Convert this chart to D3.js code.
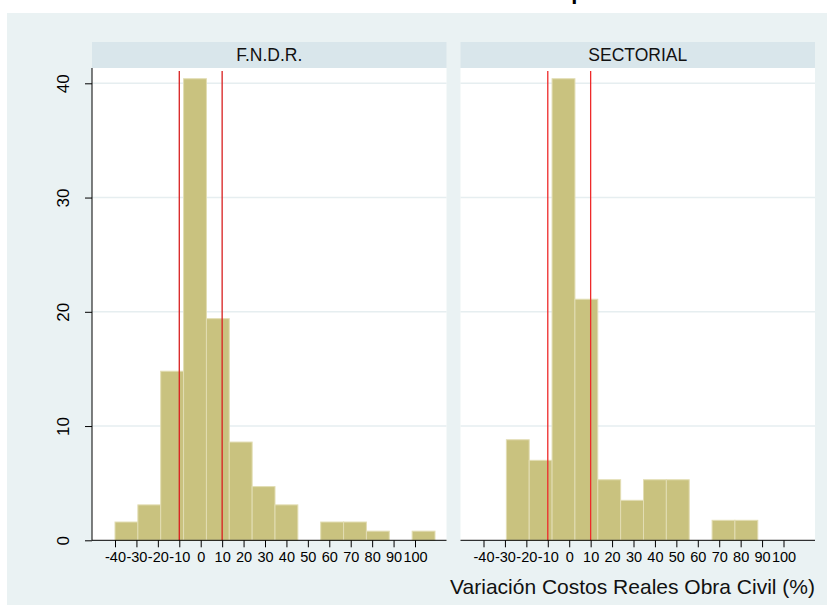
<!DOCTYPE html>
<html><head><meta charset="utf-8">
<script src="https://cdn.jsdelivr.net/npm/d3@7"></script>
<style>body{margin:0;background:#fff;}svg{display:block;font-family:"Liberation Sans",Arial,sans-serif;}</style>
</head><body>
<script>
const panels = ["F.N.D.R.", "SECTORIAL"];
const binEdges = [-40, -29.33, -18.67, -8, 2.67, 13.33, 24, 34.67, 45.33, 56, 66.67, 77.33, 88, 98.67, 109.33];
const fndrPct = [1.6, 3.1, 14.8, 40.4, 19.4, 8.6, 4.7, 3.1, 0, 1.6, 1.6, 0.8, 0, 0.8];
const sectorialPct = [0, 8.8, 7.0, 40.4, 21.1, 5.3, 3.5, 5.3, 5.3, 0, 1.75, 1.75, 0, 0];
const xTicks = [-40, -30, -20, -10, 0, 10, 20, 30, 40, 50, 60, 70, 80, 90, 100];
const yTicks = [0, 10, 20, 30, 40];
const refLines = [-10, 10];
const xTitle = "Variación Costos Reales Obra Civil (%)";

const W = 834, H = 611;
const svg = d3.select("body").append("svg").attr("width", W).attr("height", H);

svg.append("rect").attr("x", 7).attr("y", 13).attr("width", 820).attr("height", 592).attr("fill", "#eaf2f3");
// title, cut off by the top edge as in the reference (only the descender shows)
svg.append("text").attr("x", 578).attr("y", -1).attr("text-anchor", "middle")
  .attr("font-size", 22).attr("font-weight", "bold").attr("fill", "#000").text("p");

const panelX = [92, 460.5];
const panelW = 354.5;
const plotTop = 68, stripTop = 42;
const y = d3.scaleLinear().domain([0, 40]).range([540.3, 83.3]);
const series = [fndrPct, sectorialPct];
const fmt = d => String(d);

panels.forEach((name, pi) => {
  const x0 = panelX[pi];
  const x = d3.scaleLinear().domain([-40, 100]).range([x0 + 23, x0 + 323]);
  const g = svg.append("g");
  g.append("rect").attr("x", x0).attr("y", stripTop).attr("width", panelW).attr("height", plotTop - stripTop).attr("fill", "#d9e6eb");
  g.append("text").attr("x", x0 + panelW / 2).attr("y", 61).attr("text-anchor", "middle")
    .attr("font-size", 17.5).attr("fill", "#111").text(name);
  g.append("rect").attr("x", x0).attr("y", plotTop).attr("width", panelW).attr("height", y(0) - plotTop).attr("fill", "#fff");
  g.selectAll(".grid").data(yTicks.filter(d => d > 0)).enter().append("line")
    .attr("x1", x0).attr("x2", x0 + panelW).attr("y1", d => y(d)).attr("y2", d => y(d))
    .attr("stroke", "#e6eef0").attr("stroke-width", 1.5);
  const vals = series[pi];
  g.selectAll(".bar").data(vals.map((v, i) => ({v, a: binEdges[i], b: binEdges[i + 1]})).filter(d => d.v > 0))
    .enter().append("rect")
    .attr("x", d => x(d.a)).attr("width", d => x(d.b) - x(d.a))
    .attr("y", d => y(d.v)).attr("height", d => y(0) - y(d.v))
    .attr("fill", "#c9c27f").attr("stroke", "#e2ddb3").attr("stroke-width", 1);
  g.selectAll(".ref").data(refLines).enter().append("line")
    .attr("x1", d => x(d)).attr("x2", d => x(d)).attr("y1", 71).attr("y2", y(0))
    .attr("stroke", pi === 0 ? "#d81e1e" : "#ee2a2a").attr("stroke-width", 1.3);
  const xa = g.append("g").attr("transform", `translate(0,${y(0)})`)
    .call(d3.axisBottom(x).tickValues(xTicks).tickSize(7).tickPadding(4).tickFormat(fmt));
  xa.select(".domain").remove();
  xa.append("line").attr("x1", x0).attr("x2", x0 + panelW).attr("stroke", "#000").attr("stroke-width", 1);
  xa.selectAll(".tick line").attr("stroke", "#000");
  xa.selectAll("text").attr("font-size", 14.5).attr("fill", "#000").attr("font-family", "Liberation Sans, Arial, sans-serif");
  if (pi === 0) {
    const ya = g.append("g").attr("transform", `translate(${x0},0)`)
      .call(d3.axisLeft(y).tickValues(yTicks).tickSize(7).tickFormat(fmt));
    ya.select(".domain").remove();
    ya.append("line").attr("y1", plotTop).attr("y2", y(0)).attr("stroke", "#000");
    ya.selectAll(".tick line").attr("stroke", "#000");
    ya.selectAll("text").attr("font-size", 17).attr("fill", "#000").attr("font-family", "Liberation Sans, Arial, sans-serif")
      .attr("text-anchor", "middle").attr("dy", null).attr("x", null)
      .attr("transform", "translate(-29,0) rotate(-90)").attr("y", 6);
  }
});

svg.append("text").attr("x", 815).attr("y", 594).attr("text-anchor", "end")
  .attr("font-size", 21).attr("fill", "#111").text(xTitle);
</script>
</body></html>
